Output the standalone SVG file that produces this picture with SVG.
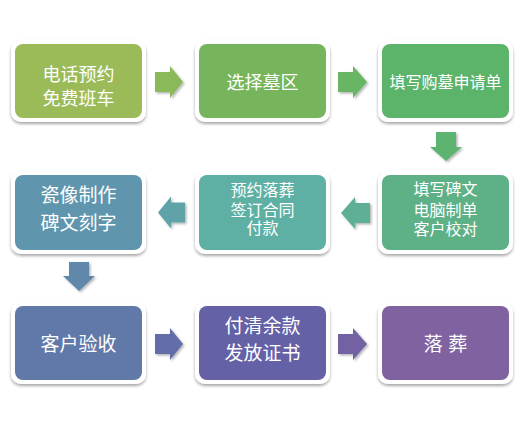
<svg xmlns="http://www.w3.org/2000/svg" width="524" height="428" viewBox="0 0 524 428">
<defs>
<filter id="sh" x="-10%" y="-10%" width="120%" height="130%">
<feDropShadow dx="0" dy="2" stdDeviation="1.5" flood-color="#000" flood-opacity="0.35"/>
</filter>
<filter id="ash" x="-20%" y="-20%" width="150%" height="150%">
<feDropShadow dx="1.5" dy="1.5" stdDeviation="1" flood-color="#000" flood-opacity="0.3"/>
</filter>
<style>
.frame{fill:#fff;filter:url(#sh);}
.t{font-family:"Liberation Sans","Noto Sans CJK SC",sans-serif;fill:#fff;text-anchor:middle;}
.s18{font-size:18px;}
.s19{font-size:19px;}
.s16{font-size:16px;}
.arr{filter:url(#ash);}
</style>
</defs>
<rect width="524" height="428" fill="#fff"/>
<g id="connectors">
<path class="arr" fill="#8ab95a" d="M155,72 H170 V66 L183,82 L170,98 V92 H155 Z"/>
<path class="arr" fill="#68b563" d="M338,72 H353 V66 L367,82 L353,98 V92 H338 Z"/>
<path class="arr" fill="#5cb470" d="M436,132 V147 H430 L446,161 L462,147 H456 V132 Z"/>
<path class="arr" fill="#5db096" d="M370,203 H355 V197 L341,213 L355,229 V223 H370 Z"/>
<path class="arr" fill="#5ea3a9" d="M185,202.5 H171 V196.5 L158,212.5 L171,228.5 V222.5 H185 Z"/>
<path class="arr" fill="#6088ab" d="M69,262 V276 H63 L79,291 L95,276 H89 V262 Z"/>
<path class="arr" fill="#636da8" d="M155,334 H170 V328 L183,344 L170,360 V354 H155 Z"/>
<path class="arr" fill="#7262a4" d="M338,334 H353 V328 L367,344 L353,360 V354 H338 Z"/>
</g>
<g id="n1">
<rect class="frame" x="11" y="40" width="135" height="82" rx="10"/>
<rect x="15" y="44" width="127" height="74" rx="8" fill="#9bbb59"/>
<text class="t s18" x="78.5" y="81">电话预约</text>
<text class="t s18" x="78.5" y="104.5">免费班车</text>
</g>
<g id="n2">
<rect class="frame" x="195" y="40" width="135" height="82" rx="10"/>
<rect x="199" y="44" width="127" height="74" rx="8" fill="#76b55b"/>
<text class="t s18" x="262.5" y="89">选择墓区</text>
</g>
<g id="n3">
<rect class="frame" x="378" y="40" width="135" height="82" rx="10"/>
<rect x="382" y="44" width="127" height="74" rx="8" fill="#5cb46b"/>
<text class="t s16" x="445.5" y="88">填写购墓申请单</text>
</g>
<g id="n4">
<rect class="frame" x="378" y="171" width="135" height="83" rx="10"/>
<rect x="382" y="175" width="127" height="75" rx="8" fill="#5eb087"/>
<text class="t s16" x="445.5" y="195">填写碑文</text>
<text class="t s16" x="445.5" y="215.5">电脑制单</text>
<text class="t s16" x="445.5" y="235">客户校对</text>
</g>
<g id="n5">
<rect class="frame" x="195" y="171" width="135" height="83" rx="10"/>
<rect x="199" y="175" width="127" height="75" rx="8" fill="#5eb0a4"/>
<text class="t s16" x="262.5" y="196">预约落葬</text>
<text class="t s16" x="262.5" y="216">签订合同</text>
<text class="t s16" x="262.5" y="234">付款</text>
</g>
<g id="n6">
<rect class="frame" x="11" y="171" width="135" height="83" rx="10"/>
<rect x="15" y="175" width="127" height="75" rx="8" fill="#5f96ae"/>
<text class="t s19" x="78.5" y="201.5">瓷像制作</text>
<text class="t s19" x="78.5" y="229.5">碑文刻字</text>
</g>
<g id="n7">
<rect class="frame" x="11" y="302" width="135" height="82" rx="10"/>
<rect x="15" y="306" width="127" height="74" rx="8" fill="#6179a9"/>
<text class="t s19" x="78.5" y="350.5">客户验收</text>
</g>
<g id="n8">
<rect class="frame" x="195" y="302" width="135" height="82" rx="10"/>
<rect x="199" y="306" width="127" height="74" rx="8" fill="#6561a6"/>
<text class="t s19" x="262.5" y="332.5">付清余款</text>
<text class="t s19" x="262.5" y="360">发放证书</text>
</g>
<g id="n9">
<rect class="frame" x="378" y="302" width="135" height="82" rx="10"/>
<rect x="382" y="306" width="127" height="74" rx="8" fill="#8062a1"/>
<text class="t s19" x="445.5" y="350.5">落 葬</text>
</g>
</svg>
